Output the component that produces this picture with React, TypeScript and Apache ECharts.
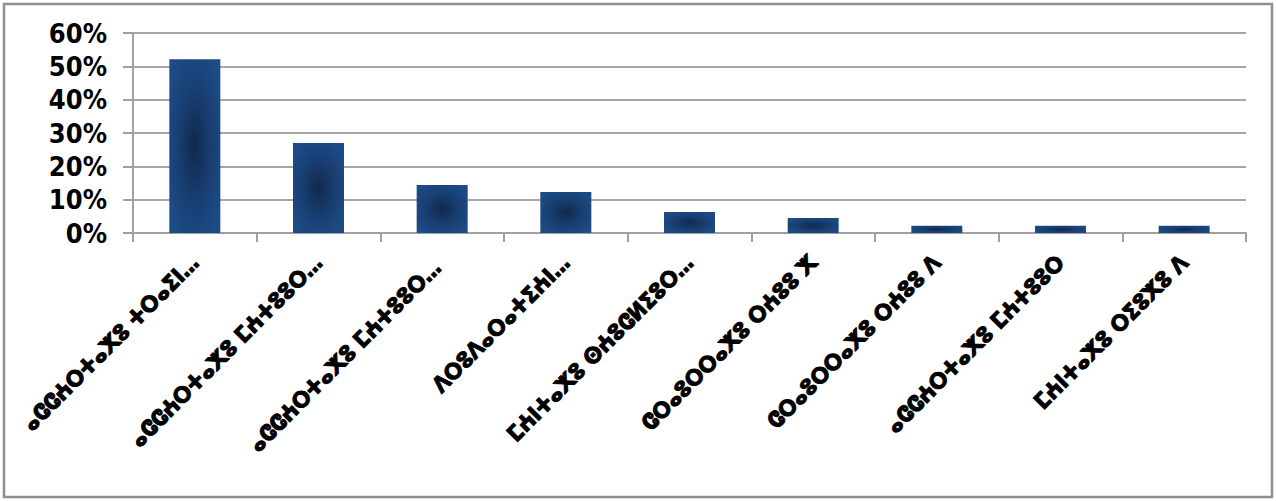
import React, { useEffect, useRef } from "react";
import * as echarts from "echarts";

// Category labels (Tifinagh), shown as they appear on the axis
const categories: string[] = [
  "ⴰⵛⵛⵄⵔⵜⴰⵅⵓ ⵜⵔⴰⵉⵏ…",
  "ⴰⵛⵛⵄⵔⵜⴰⵅⵓ ⵎⵄⵜⵓⵓⵔ…",
  "ⴰⵛⵛⵄⵔⵜⴰⵅⵓ ⵎⵄⵜⵓⵓⵔ… ",
  "ⴷⵔⵓⴷⴰⵔⴰⵜⵉⵄⵏ…",
  "ⵎⵄⵏⵜⴰⵅⵓ ⵙⵄⵓⵛⵍⵉⵓⵔ…",
  "ⵛⵔⴰⵓⵔⵔⴰⵅⵓ ⵔⵄⵓⵓ ⵅ",
  "ⵛⵔⴰⵓⵔⵔⴰⵅⵓ ⵔⵄⵓⵓ ⴷ",
  "ⴰⵛⵛⵄⵔⵜⴰⵅⵓ ⵎⵄⵜⵓⵓⵔ",
  "ⵎⵄⵏⵜⴰⵅⵓ ⵔⵉⵓⵅⵓ ⴷ",
];

// Share of responses, in percent
const shares: number[] = [52.1, 27.0, 14.4, 12.3, 6.3, 4.5, 2.2, 2.2, 2.2];

// Value axis ticks
const axisMax = 60;
const axisStep = 10;

export default function App() {
  const ref = useRef<HTMLDivElement>(null);

  useEffect(() => {
    if (!ref.current) return;
    const chart = echarts.init(ref.current, null, { renderer: "svg" });

    const barFill = new echarts.graphic.RadialGradient(0.5, 0.5, 0.6, [
      { offset: 0, color: "#10294c" },
      { offset: 0.55, color: "#183f73" },
      { offset: 1, color: "#1d4b86" },
    ]);

    chart.setOption({
      animation: false,
      backgroundColor: "#ffffff",
      graphic: [
        {
          type: "rect",
          shape: { x: 4, y: 4, width: 1268, height: 493 },
          style: { fill: "none", stroke: "#8f8f8f", lineWidth: 2.5 },
          silent: true,
        },
      ],
      grid: { left: 133, right: 30, top: 33, bottom: 268 },
      xAxis: {
        type: "category",
        data: categories,
        boundaryGap: true,
        axisLine: { show: true, lineStyle: { color: "#a0a0a0", width: 2 } },
        axisTick: { show: true, length: 9, lineStyle: { color: "#a0a0a0", width: 2 } },
        axisLabel: {
          interval: 0,
          rotate: 45,
          margin: 26,
          color: "#000000",
          fontFamily: "DejaVu Sans Condensed",
          fontWeight: "bold",
          fontSize: 22,
          textBorderColor: "#000000",
          textBorderWidth: 1,
        },
      },
      yAxis: {
        type: "value",
        min: 0,
        max: axisMax,
        interval: axisStep,
        axisLine: { show: true, lineStyle: { color: "#a0a0a0", width: 2 } },
        axisTick: { show: true, length: 10, lineStyle: { color: "#a0a0a0", width: 2 } },
        splitLine: { show: true, lineStyle: { color: "#a6a6a6", width: 2 } },
        axisLabel: {
          formatter: "{value}%",
          margin: 26,
          color: "#000000",
          fontFamily: "DejaVu Sans Condensed",
          fontWeight: "bold",
          fontSize: 27,
        },
      },
      series: [
        {
          type: "bar",
          data: shares,
          barWidth: 51,
          itemStyle: { color: barFill },
        },
      ],
    });

    return () => chart.dispose();
  }, []);

  return (
    <div
      ref={ref}
      style={{ position: "fixed", left: 0, top: 0, width: 1276, height: 501 }}
    />
  );
}
